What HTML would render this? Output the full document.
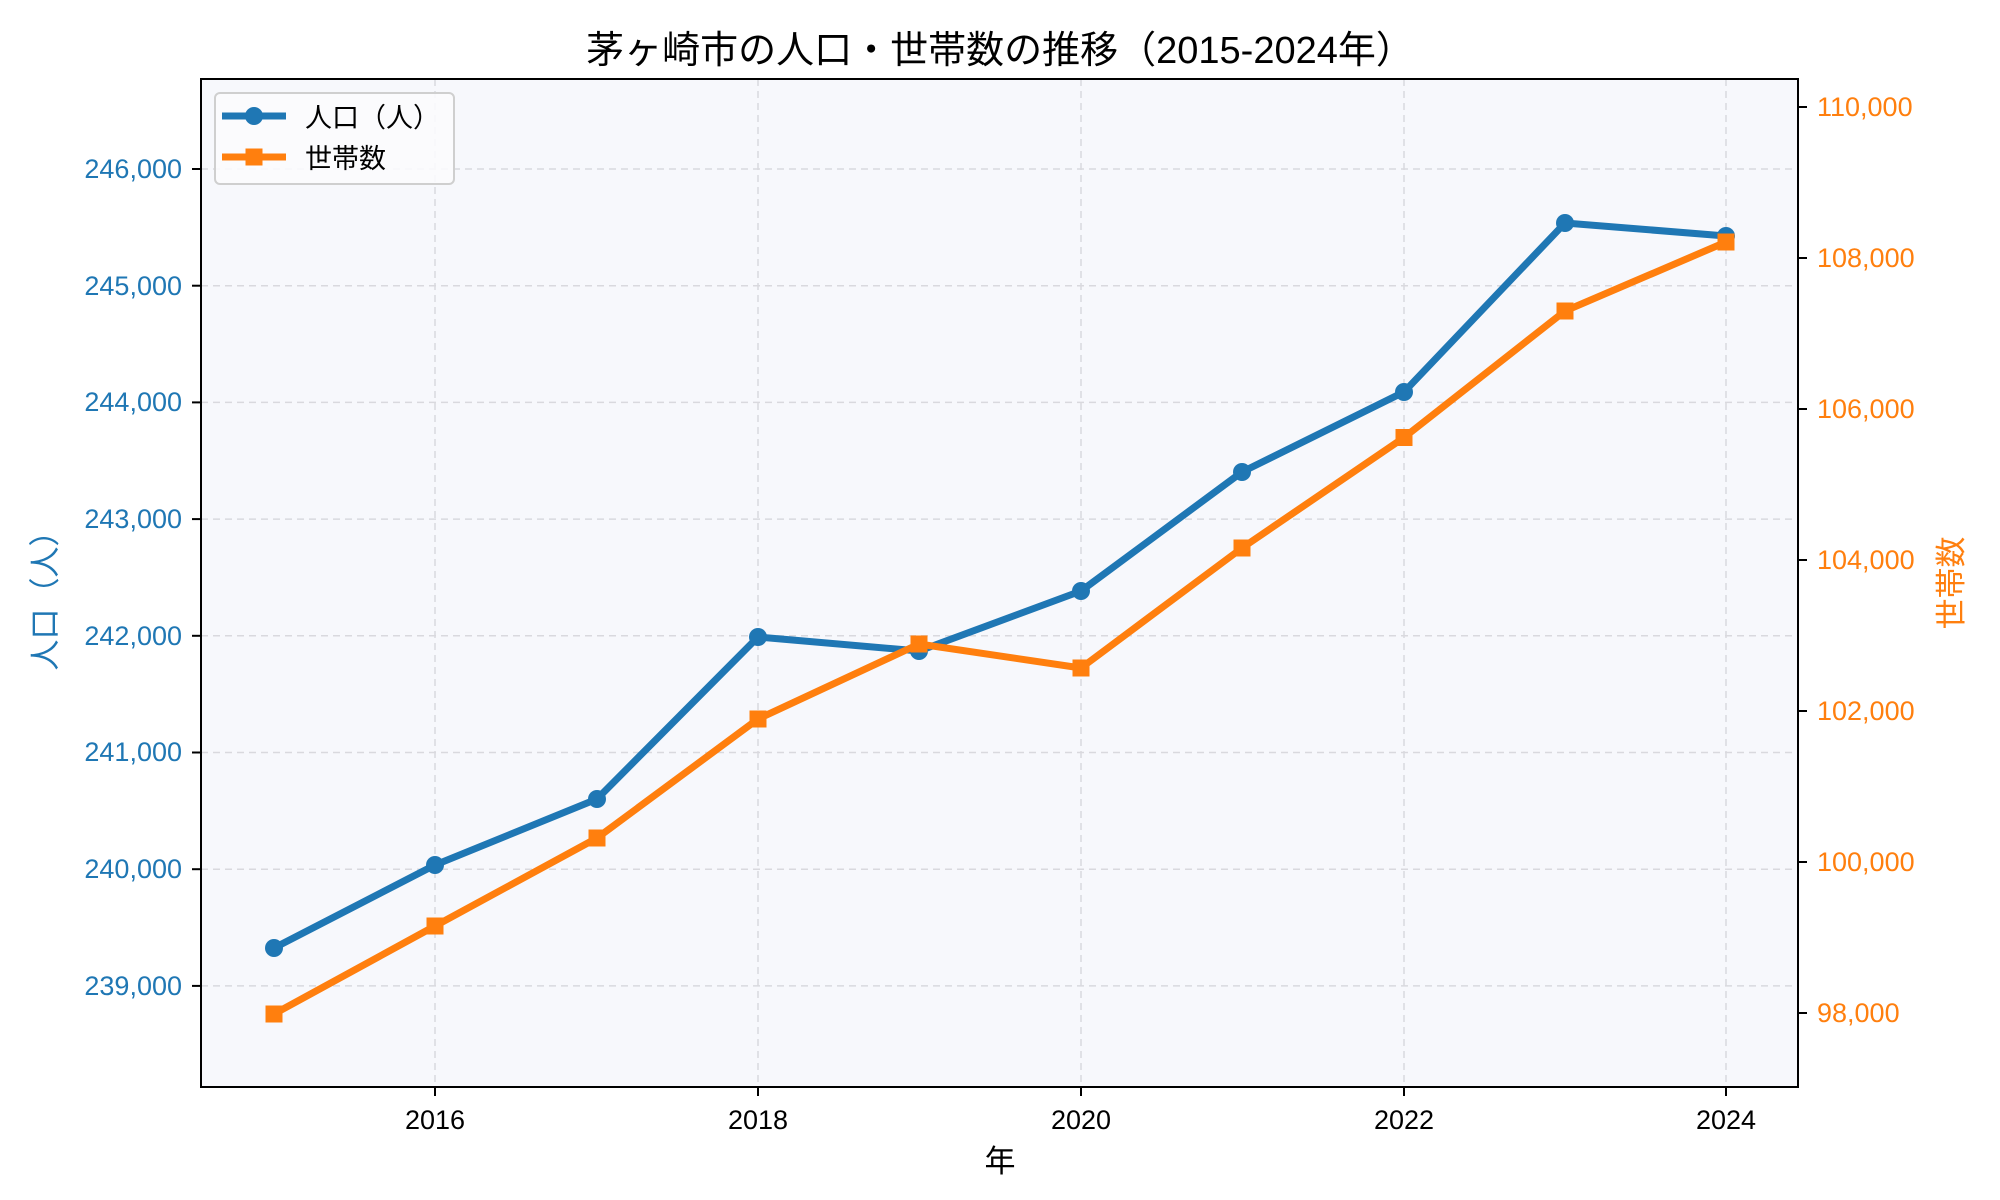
<!DOCTYPE html>
<html><head><meta charset="utf-8"><style>
html,body{margin:0;padding:0;background:#fff;}
svg{display:block;font-family:"Liberation Sans","Noto Sans CJK JP",sans-serif;}
</style></head><body>
<svg width="2000" height="1200" viewBox="0 0 2000 1200" xmlns="http://www.w3.org/2000/svg">
<rect x="201" y="79" width="1597" height="1008" fill="#f7f8fc"/>
<g stroke="#d9d9de" stroke-width="1.5" stroke-dasharray="7,5">
<line x1="435" y1="79" x2="435" y2="1087"/><line x1="758" y1="79" x2="758" y2="1087"/>
<line x1="1081" y1="79" x2="1081" y2="1087"/><line x1="1404" y1="79" x2="1404" y2="1087"/>
<line x1="1726" y1="79" x2="1726" y2="1087"/>
<line x1="201" y1="169" x2="1798" y2="169"/><line x1="201" y1="285.7" x2="1798" y2="285.7"/>
<line x1="201" y1="402.4" x2="1798" y2="402.4"/><line x1="201" y1="519.1" x2="1798" y2="519.1"/>
<line x1="201" y1="635.8" x2="1798" y2="635.8"/><line x1="201" y1="752.5" x2="1798" y2="752.5"/>
<line x1="201" y1="869.2" x2="1798" y2="869.2"/><line x1="201" y1="985.9" x2="1798" y2="985.9"/>
</g>
<polyline fill="none" stroke="#1f77b4" stroke-width="7" stroke-linejoin="round" points="274,948 435,865 597,799 758,637 919,651 1081,591 1242,472 1404,392 1565,223 1726,236"/>
<g fill="#1f77b4">
<circle cx="274" cy="948" r="9"/><circle cx="435" cy="865" r="9"/><circle cx="597" cy="799" r="9"/><circle cx="758" cy="637" r="9"/><circle cx="919" cy="651" r="9"/><circle cx="1081" cy="591" r="9"/><circle cx="1242" cy="472" r="9"/><circle cx="1404" cy="392" r="9"/><circle cx="1565" cy="223" r="9"/><circle cx="1726" cy="236" r="9"/>
</g>
<polyline fill="none" stroke="#ff7f0e" stroke-width="7" stroke-linejoin="round" points="274,1014 435,926 597,838 758,719 919,644 1081,668 1242,548 1404,437.5 1565,311 1726,242"/>
<g fill="#ff7f0e">
<rect x="265.5" y="1005.5" width="17" height="17"/><rect x="426.5" y="917.5" width="17" height="17"/><rect x="588.5" y="829.5" width="17" height="17"/><rect x="749.5" y="710.5" width="17" height="17"/><rect x="910.5" y="635.5" width="17" height="17"/><rect x="1072.5" y="659.5" width="17" height="17"/><rect x="1233.5" y="539.5" width="17" height="17"/><rect x="1395.5" y="429" width="17" height="17"/><rect x="1556.5" y="302.5" width="17" height="17"/><rect x="1717.5" y="233.5" width="17" height="17"/>
</g>
<rect x="201" y="79" width="1597" height="1008" fill="none" stroke="#000" stroke-width="2"/>
<g stroke="#000" stroke-width="2">
<line x1="435" y1="1087" x2="435" y2="1096"/><line x1="758" y1="1087" x2="758" y2="1096"/><line x1="1081" y1="1087" x2="1081" y2="1096"/><line x1="1404" y1="1087" x2="1404" y2="1096"/><line x1="1726" y1="1087" x2="1726" y2="1096"/>
<line x1="192" y1="169" x2="201" y2="169"/><line x1="192" y1="285.7" x2="201" y2="285.7"/><line x1="192" y1="402.4" x2="201" y2="402.4"/><line x1="192" y1="519.1" x2="201" y2="519.1"/><line x1="192" y1="635.8" x2="201" y2="635.8"/><line x1="192" y1="752.5" x2="201" y2="752.5"/><line x1="192" y1="869.2" x2="201" y2="869.2"/><line x1="192" y1="985.9" x2="201" y2="985.9"/>
<line x1="1798" y1="107" x2="1807" y2="107"/><line x1="1798" y1="258" x2="1807" y2="258"/><line x1="1798" y1="409" x2="1807" y2="409"/><line x1="1798" y1="560" x2="1807" y2="560"/><line x1="1798" y1="711" x2="1807" y2="711"/><line x1="1798" y1="862" x2="1807" y2="862"/><line x1="1798" y1="1013" x2="1807" y2="1013"/>
</g>
<g font-size="27" text-anchor="middle" fill="#000">
<text x="435" y="1129">2016</text><text x="758" y="1129">2018</text><text x="1081" y="1129">2020</text><text x="1404" y="1129">2022</text><text x="1726" y="1129">2024</text>
</g>
<g font-size="27" text-anchor="end" fill="#1f77b4">
<text x="182" y="178">246,000</text><text x="182" y="295">245,000</text><text x="182" y="411">244,000</text><text x="182" y="528">243,000</text><text x="182" y="645">242,000</text><text x="182" y="761">241,000</text><text x="182" y="878">240,000</text><text x="182" y="995">239,000</text>
</g>
<g font-size="27" fill="#ff7f0e">
<text x="1817" y="116">110,000</text><text x="1817" y="267">108,000</text><text x="1817" y="418">106,000</text><text x="1817" y="569">104,000</text><text x="1817" y="720">102,000</text><text x="1817" y="871">100,000</text><text x="1817" y="1022">98,000</text>
</g>
<text x="1000" y="63" font-size="38" text-anchor="middle" fill="#000">茅ヶ崎市の人口・世帯数の推移（2015-2024年）</text>
<text x="1000" y="1172" font-size="31" text-anchor="middle" fill="#000">年</text>
<text transform="translate(56,593) rotate(-90)" font-size="31" text-anchor="middle" fill="#1f77b4">人口（人）</text>
<text transform="translate(1962,583) rotate(-90)" font-size="31" text-anchor="middle" fill="#ff7f0e">世帯数</text>
<rect x="215" y="93" width="239" height="91" rx="5" fill="#fbfbfd" fill-opacity="0.9" stroke="#cfcfcf" stroke-width="2"/>
<line x1="222" y1="116" x2="286" y2="116" stroke="#1f77b4" stroke-width="7"/>
<circle cx="254" cy="116" r="9" fill="#1f77b4"/>
<line x1="222" y1="157" x2="286" y2="157" stroke="#ff7f0e" stroke-width="7"/>
<rect x="245.5" y="148.5" width="17" height="17" fill="#ff7f0e"/>
<text x="305" y="127" font-size="27" fill="#000">人口（人）</text>
<text x="305" y="168" font-size="27" fill="#000">世帯数</text>
</svg>
</body></html>
